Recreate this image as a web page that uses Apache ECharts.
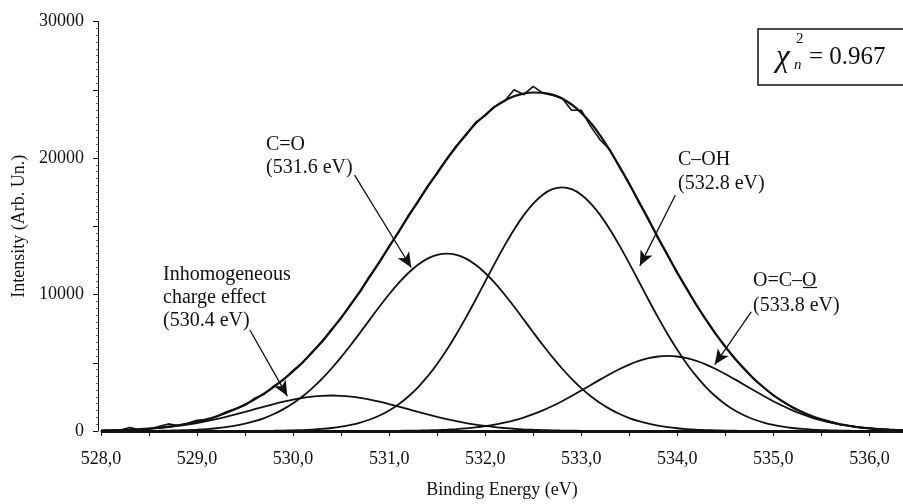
<!DOCTYPE html>
<html>
<head>
<meta charset="utf-8">
<script src="https://cdn.jsdelivr.net/npm/echarts@6/dist/echarts.min.js"></script>
<style>
html, body { margin: 0; padding: 0; background: #fff; }
#chart { width: 903px; height: 504px; }
</style>
</head>
<body>
<div id="chart"></div>
<script>
// binding energy grid (eV)
const energies = [
  528.0,528.1,528.2,528.3,528.4,528.5,528.6,528.7,528.8,528.9,
  529.0,529.1,529.2,529.3,529.4,529.5,529.6,529.7,529.8,529.9,
  530.0,530.1,530.2,530.3,530.4,530.5,530.6,530.7,530.8,530.9,
  531.0,531.1,531.2,531.3,531.4,531.5,531.6,531.7,531.8,531.9,
  532.0,532.1,532.2,532.3,532.4,532.5,532.6,532.7,532.8,532.9,
  533.0,533.1,533.2,533.3,533.4,533.5,533.6,533.7,533.8,533.9,
  534.0,534.1,534.2,534.3,534.4,534.5,534.6,534.7,534.8,534.9,
  535.0,535.1,535.2,535.3,535.4,535.5,535.6,535.7,535.8,535.9,
  536.0,536.1,536.2,536.3,536.4
];
// measured spectrum
const rawCounts = [
  20,30,60,260,90,150,330,520,400,560,
  780,830,1050,1400,1620,1880,2400,2700,3300,3750,
  4450,5000,5800,6500,7450,8250,9300,10200,11400,12350,
  13550,14550,15800,16750,17950,18850,19950,20900,21650,22600,
  23100,23800,24150,25000,24650,25250,24750,24600,24400,23500,
  23500,22300,21300,20600,19300,18150,16750,15550,14100,12900,
  11550,10450,9200,8150,7100,6200,5280,4550,3780,3200,
  2600,2170,1720,1400,1050,880,680,460,380,260,
  210,130,110,60,50
];
// fitted envelope
const fitEnvelope = [
  33,48,68,95,131,177,238,315,412,533,
  679,856,1067,1315,1605,1937,2318,2751,3237,3779,
  4379,5040,5765,6552,7399,8304,9266,10273,11324,12405,
  13504,14614,15722,16817,17885,18918,19909,20845,21720,22525,
  23150,23740,24200,24530,24720,24800,24780,24640,24360,23920,
  23320,22560,21620,20533,19352,18099,16803,15484,14168,12867,
  11604,10386,9230,8138,7118,6172,5307,4521,3814,3185,
  2631,2148,1735,1383,1089,847,651,493,369,272,
  197,141,100,70,48
];
// inhomogeneous charge effect (530.4 eV)
const peakInhom = [
  32,46,65,90,123,165,219,286,368,467,
  582,716,866,1032,1212,1401,1595,1789,1975,2148,
  2301,2427,2522,2580,2600,2580,2522,2427,2301,2148,
  1975,1789,1595,1401,1212,1032,866,716,582,467,
  368,286,219,165,123,90,65,46,32,22,
  15,10,7,4,3,2,1,0,0,0,
  0,0,0,0,0,0,0,0,0,0,
  0,0,0,0,0,0,0,0,0,0,
  0,0,0,0,0
];
// C=O (531.6 eV)
const peakCO = [
  1,2,3,5,8,12,19,29,44,66,
  97,140,200,281,390,532,716,950,1243,1602,
  2033,2545,3141,3821,4579,5409,6299,7228,8176,9116,
  10015,10846,11577,12180,12628,12906,13000,12906,12628,12180,
  11577,10846,10015,9116,8176,7228,6299,5409,4579,3821,
  3141,2545,2033,1602,1243,950,716,532,390,281,
  200,140,97,66,44,29,19,12,8,5,
  3,2,1,0,0,0,0,0,0,0,
  0,0,0,0,0
];
// C-OH (532.8 eV)
const peakCOH = [
  0,0,0,0,0,0,0,0,0,0,
  0,0,1,2,3,4,7,12,19,29,
  45,68,102,151,220,314,444,616,843,1135,
  1505,1965,2529,3204,3998,4912,5946,7086,8320,9618,
  10951,12279,13561,14749,15797,16665,17313,17714,17850,17714,
  17313,16665,15797,14749,13561,12279,10951,9618,8320,7086,
  5946,4912,3998,3204,2529,1965,1505,1135,843,616,
  444,314,220,151,102,68,45,29,19,12,
  7,4,3,2,1
];
// O=C-O (533.8 eV)
const peakOCO = [
  0,0,0,0,0,0,0,0,0,0,
  0,0,0,0,0,0,0,0,0,0,
  0,0,0,0,0,1,1,2,4,6,
  9,14,21,32,47,68,97,137,190,260,
  350,464,606,779,987,1232,1514,1832,2184,2564,
  2963,3374,3783,4178,4545,4868,5135,5334,5458,5500,
  5458,5334,5135,4868,4545,4178,3783,3374,2963,2564,
  2184,1832,1514,1232,987,779,606,464,350,260,
  190,137,97,68,47
];

const FONT = '"Liberation Serif", "DejaVu Serif", serif';
const INK = '#111';

function pairs(ys) {
  return energies.map((e, i) => [e, ys[i]]);
}

function peakSeries(name, ys, extra) {
  return Object.assign({
    name: name,
    type: 'line',
    data: pairs(ys),
    showSymbol: false,
    smooth: 0.3,
    itemStyle: { color: INK },
    lineStyle: { color: INK, width: 1.8 },
    z: 2
  }, extra || {});
}

// annotation arrow: from label to curve, in data coordinates
function arrow(from, to) {
  return [
    { coord: from, symbol: 'none' },
    { coord: to, symbol: 'arrow', symbolSize: [10, 15] }
  ];
}

const chart = echarts.init(document.getElementById('chart'));

const option = {
  animation: false,
  backgroundColor: '#fff',
  grid: { left: 101, right: 0, top: 21.5, bottom: 68.7 },
  xAxis: [
    {
      type: 'value',
      min: 528,
      max: 536.35,
      interval: 0.5,
      name: 'Binding Energy (eV)',
      nameLocation: 'middle',
      nameGap: 50,
      nameTextStyle: { fontFamily: FONT, fontSize: 18, color: INK },
      axisLine: { onZero: false, lineStyle: { color: INK, width: 1 } },
      axisTick: { show: true, length: 5, lineStyle: { color: INK } },
      minorTick: { show: true, splitNumber: 20, length: 2, lineStyle: { color: '#666' } },
      splitLine: { show: false },
      axisLabel: {
        fontFamily: FONT, fontSize: 18, color: INK, margin: 19,
        showMaxLabel: false,
        formatter: v => Math.abs(v - Math.round(v)) < 1e-6 ? v.toFixed(1).replace('.', ',') : ''
      }
    },
    {
      type: 'value',
      position: 'top',
      min: 528,
      max: 536.35,
      axisLine: { show: true, lineStyle: { color: '#8a8a8a', width: 1.5 } },
      axisTick: { show: false },
      axisLabel: { show: false },
      splitLine: { show: false }
    }
  ],
  yAxis: {
    type: 'value',
    min: 0,
    max: 30000,
    interval: 5000,
    offset: 3,
    name: 'Intensity (Arb. Un.)',
    nameLocation: 'middle',
    nameGap: 68,
    nameTextStyle: { fontFamily: FONT, fontSize: 18, color: INK },
    axisLine: { show: true, lineStyle: { color: INK, width: 1 } },
    axisTick: { show: true, length: 5, lineStyle: { color: INK } },
    minorTick: { show: true, splitNumber: 10, length: 2, lineStyle: { color: '#666' } },
    splitLine: { show: false },
    axisLabel: {
      fontFamily: FONT, fontSize: 18, color: INK, margin: 14,
      formatter: v => v % 10000 === 0 ? String(v) : ''
    }
  },
  series: [
    {
      name: 'Experimental',
      type: 'line',
      data: pairs(rawCounts),
      showSymbol: false,
      itemStyle: { color: INK },
      lineStyle: { color: INK, width: 1.6 },
      z: 3
    },
    peakSeries('Fit', fitEnvelope, {
      lineStyle: { color: INK, width: 2.2 },
      z: 4,
      markLine: {
        silent: true,
        symbol: 'none',
        label: { show: false },
        lineStyle: { color: INK, width: 3, type: 'solid' },
        data: [{ yAxis: 0 }]
      }
    }),
    peakSeries('Inhomogeneous charge effect', peakInhom, {
      markLine: {
        silent: true,
        symbol: ['none', 'arrow'],
        symbolSize: 14,
        label: { show: false },
        itemStyle: { color: INK },
        lineStyle: { color: INK, width: 1.3, type: 'solid' },
        emphasis: { disabled: true },
        data: [
          arrow([529.55, 7400], [529.94, 2560]),
          arrow([530.64, 18740], [531.23, 11980]),
          arrow([533.98, 17290], [533.61, 12100]),
          arrow([534.77, 8720], [534.39, 4870])
        ]
      }
    }),
    peakSeries('C=O', peakCO),
    peakSeries('C-OH', peakCOH),
    peakSeries('O=C-O', peakOCO)
  ],
  graphic: [
    {
      type: 'text', left: 163, top: 263.5,
      style: { text: 'Inhomogeneous\ncharge effect\n(530.4 eV)', fontFamily: FONT, fontSize: 20, lineHeight: 23, fill: INK }
    },
    {
      type: 'text', left: 266, top: 133.5,
      style: { text: 'C=O\n(531.6 eV)', fontFamily: FONT, fontSize: 20, lineHeight: 23, fill: INK }
    },
    {
      type: 'text', left: 678, top: 148,
      style: { text: 'C\u2013OH\n(532.8 eV)', fontFamily: FONT, fontSize: 20, lineHeight: 24, fill: INK }
    },
    {
      type: 'text', left: 753, top: 268,
      style: { text: 'O=C\u2013O\n(533.8 eV)', fontFamily: FONT, fontSize: 20, lineHeight: 25, fill: INK }
    },
    {
      type: 'line',
      shape: { x1: 803, y1: 287.5, x2: 817, y2: 287.5 },
      style: { stroke: INK, lineWidth: 1.2 }
    },
    {
      type: 'rect',
      shape: { x: 758, y: 29, width: 160, height: 56 },
      style: { fill: '#fff', stroke: INK, lineWidth: 1.5 },
      z: 10
    },
    {
      type: 'text', x: 776, y: 58, z: 11,
      style: { text: '\u03c7', fontFamily: FONT, fontSize: 31, fontStyle: 'italic', fill: INK, verticalAlign: 'middle' }
    },
    {
      type: 'text', x: 796, y: 39, z: 11,
      style: { text: '2', fontFamily: FONT, fontSize: 15, fill: INK, verticalAlign: 'middle' }
    },
    {
      type: 'text', x: 794, y: 65, z: 11,
      style: { text: 'n', fontFamily: FONT, fontSize: 15, fontStyle: 'italic', fill: INK, verticalAlign: 'middle' }
    },
    {
      type: 'text', x: 809, y: 57, z: 11,
      style: { text: '= 0.967', fontFamily: FONT, fontSize: 25, fill: INK, verticalAlign: 'middle' }
    }
  ]
};

chart.setOption(option);
</script>
</body>
</html>
